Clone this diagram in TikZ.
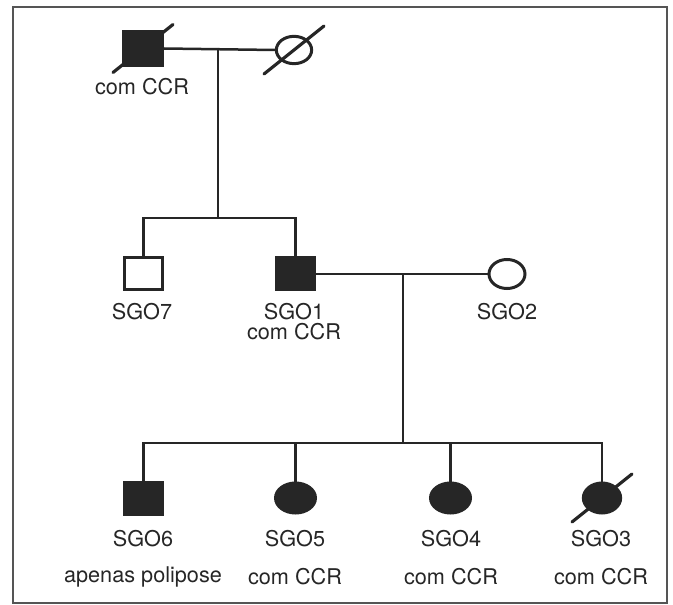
\documentclass[tikz,border=0pt]{standalone}
\usepackage{fontspec}
\setmainfont{TeX Gyre Heros}
\usetikzlibrary{shapes.geometric,calc}
\definecolor{ink}{HTML}{262626}
\definecolor{framecol}{HTML}{555555}
\newcommand{\obito}[1]{%
  \draw[slash] ($(#1)+(-30,24)$) -- ($(#1)+(30,-24)$);}

\begin{document}
\begin{tikzpicture}[
  x=0.3mm, y=-0.3mm, line join=miter,
  male/.style={draw=ink, rectangle, line width=0.9mm, inner sep=0pt,
               minimum width=11.5mm, minimum height=9.6mm},
  female/.style={draw=ink, ellipse, line width=0.9mm, inner sep=0pt,
                 minimum width=11.4mm, minimum height=8.8mm},
  aff/.style={fill=ink},
  rel/.style={draw=ink, line width=0.75mm},
  slash/.style={draw=ink, line width=0.95mm, line cap=round},
  lbl/.style={font=\fontsize{18.5}{21}\selectfont, text=ink, inner sep=0pt}]
\useasboundingbox (0,0) rectangle (673,605);
\draw[framecol, line width=0.45mm] (13,7) rectangle (667,603);

% ==================================================== grandparents
\node[male, aff, minimum height=10.2mm] (avo) at (143,48.5) {};
\node[female, minimum width=10.6mm, minimum height=8.2mm] (avoa) at (294,50) {};
\obito{avo}
\obito{avoa}
\node[lbl] (tavo) at (142,87) {com CCR};
\coordinate (j1) at (218,48);
\coordinate (s1) at (218,218);
\draw[rel] (avo.east) -- (avoa.west);
\draw[rel] (j1) -- (s1);

% ==================================================== second generation
\node[male] (sgo7) at (143.5,274) {};
\node[male, aff] (sgo1) at (295.5,274) {};
\node[female, minimum width=10.8mm, minimum height=8.7mm] (sgo2) at (507,274) {};
\node[lbl] (t7) at (142,312) {SGO7};
\node[lbl] (t1) at (294,312) {SGO1};
\node[lbl] (t1b) at (294,332) {com CCR};
\node[lbl] (t2) at (507,312) {SGO2};
\draw[rel] (sgo7.north) |- (s1) -| (sgo1.north);
\coordinate (j2) at (403,274);
\coordinate (s2) at (403,443);
\draw[rel] (sgo1.east) -- (sgo2.west);
\draw[rel] (j2) -- (s2);

% ==================================================== children
\node[male, aff] (sgo6) at (143.5,498) {};
\node[female, aff, minimum width=12mm, minimum height=9mm] (sgo5) at (295.5,498) {};
\node[female, aff, minimum width=12mm, minimum height=9mm] (sgo4) at (450.5,498) {};
\node[female, aff, minimum width=11.2mm, minimum height=9mm] (sgo3) at (602,498) {};
\obito{sgo3}
\draw[rel] (sgo6.north) |- (s2) -| (sgo3.north);
\draw[rel] (sgo5.north) -- (sgo5.north |- s2);
\draw[rel] (sgo4.north) -- (sgo4.north |- s2);
\foreach \n/\x/\t in {6/143/apenas polipose, 5/295/com CCR,
                      4/451/com CCR, 3/601/com CCR}{
  \node[lbl] (t\n) at (\x,539) {SGO\n};
  \node[lbl] (t\n b) at (\x,577) {\t};}

\end{tikzpicture}
\end{document}
